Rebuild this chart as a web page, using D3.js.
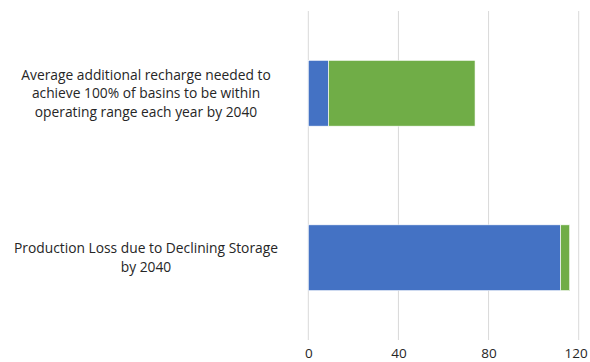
<!DOCTYPE html>
<html>
<head>
<meta charset="utf-8">
<script src="https://cdn.jsdelivr.net/npm/d3@7"></script>
<style>
  html, body { margin: 0; padding: 0; background: #fff; }
  svg { display: block; font-family: "Open Sans", "Liberation Sans", sans-serif; }
</style>
</head>
<body>
<svg id="chart" width="590" height="362"></svg>
<script>
// Categories, top to bottom ("\n" marks the label line breaks)
const categories = [
  "Average additional recharge needed to\nachieve 100% of basins to be within\noperating range each year by 2040",
  "Production Loss due to Declining Storage\nby 2040"
];
// Stacked series values
const seriesNames = ["Series 1", "Series 2"];
const series1 = [9, 112];
const series2 = [65, 4];
const seriesColors = ["#4472C4", "#70AD47"];
// Axis
const xTicks = [0, 40, 80, 120];
const gridTicks = [0, 40, 80, 120];

const FONT = '"Open Sans", "Liberation Sans", sans-serif';
const svg = d3.select("#chart");
const margin = { left: 308.3, right: 11.3, top: 11, bottom: 22 };
const W = 590, H = 362;

const x = d3.scaleLinear().domain([0, 120]).range([margin.left, W - margin.right]);
const y = d3.scaleBand().domain(categories).range([margin.top, H - margin.bottom])
  .paddingInner(0.6).paddingOuter(0.3);

// Gridlines
svg.append("g").selectAll("line").data(gridTicks).join("line")
  .attr("x1", d => x(d)).attr("x2", d => x(d))
  .attr("y1", margin.top).attr("y2", H - margin.bottom)
  .attr("stroke", "#d9d9d9").attr("stroke-width", 1);

// Stacked bars
const rows = categories.map((c, i) => ({ cat: c, "Series 1": series1[i], "Series 2": series2[i] }));
const stack = d3.stack().keys(seriesNames)(rows);
svg.append("g").selectAll("g").data(stack).join("g")
  .attr("fill", (d, i) => seriesColors[i])
  .selectAll("rect").data(d => d).join("rect")
  .attr("x", d => x(d[0]))
  .attr("width", d => x(d[1]) - x(d[0]))
  .attr("y", d => y(d.data.cat))
  .attr("height", y.bandwidth())
  .attr("stroke", "#ffffff").attr("stroke-width", 0.6);

// X axis labels
const xAxis = d3.axisBottom(x).tickValues(xTicks).tickSize(0).tickPadding(0);
const gx = svg.append("g").attr("transform", `translate(0,${H - margin.bottom})`).call(xAxis);
gx.select(".domain").remove();
gx.selectAll("text").attr("dy", null).attr("y", 17.5)
  .style("font-size", "13.5px").attr("fill", "#262626")
  .style("font-family", FONT)
  .each(function () {
    // keep the last label inside the frame
    const b = this.getBBox();
    const tx = this.parentNode.transform.baseVal.consolidate().matrix.e;
    const over = tx + b.x + b.width - (W - 2);
    if (over > 0) d3.select(this).attr("x", -over);
  });

// Category labels, centred left of the plot
const labelCx = 146, lineH = 18.5;
const lab = svg.append("g");
categories.forEach(c => {
  const lines = c.split("\n");
  const t = lab.append("text").attr("text-anchor", "middle")
    .style("font-size", "13.8px").attr("fill", "#262626");
  const cy = y(c) + y.bandwidth() / 2;
  const y0 = cy - (lines.length - 1) * lineH / 2;
  lines.forEach((l, i) => {
    t.append("tspan").attr("x", labelCx).attr("y", y0 + i * lineH).attr("dy", "0.35em").text(l);
  });
});
</script>
</body>
</html>
